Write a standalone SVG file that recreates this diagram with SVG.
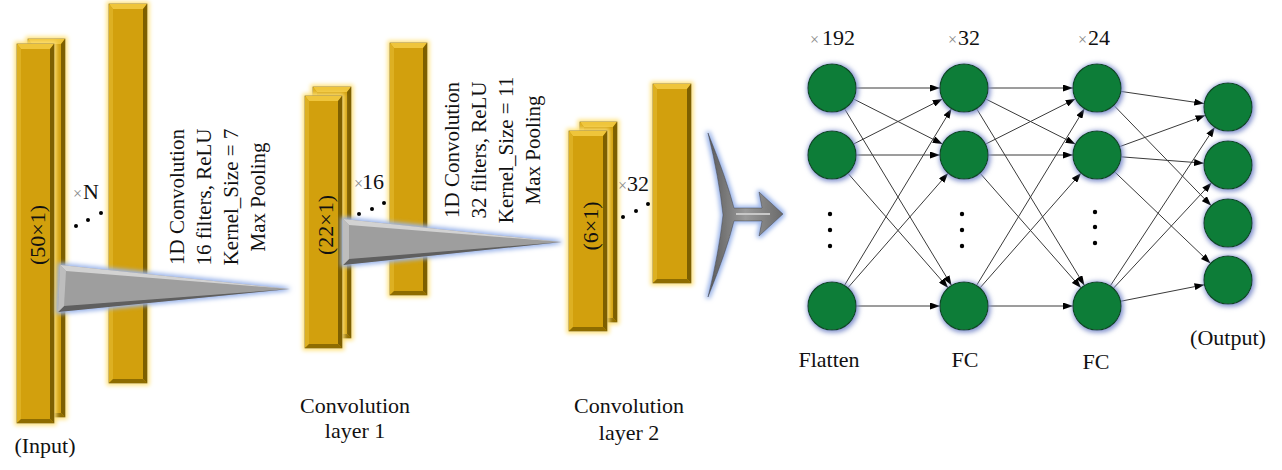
<svg xmlns="http://www.w3.org/2000/svg" width="1282" height="470" viewBox="0 0 1282 470">
<defs>
<style>
text{font-family:"Liberation Serif","Times New Roman",serif;fill:#111;}
.lbl{font-size:22px;}
.rot{font-size:21px;}
.mul{font-size:16px;fill:#8a8a8a;}
.bar{fill:#D2A00C;stroke:#5E4600;stroke-width:0.8;}
.bt{fill:#EFC53A;}
.bl{fill:#DDB022;}
.br{fill:#7D5E00;}
.bb{fill:#8E6C00;}
.tri{fill:#9E9E9E;}
.tt{fill:#D2D2D2;}
.tb{fill:#5E5E5E;}
.tl{fill:#BDBDBD;}
.node{fill:#0F7D37;stroke:#0A4A22;stroke-width:1.2;}
.dot{fill:#000;}
.cn{stroke:#3a3a3a;stroke-width:1;fill:none;marker-end:url(#ah);}
</style>
<marker id="ah" viewBox="0 0 10 7" refX="10" refY="3.5" markerWidth="10" markerHeight="7" markerUnits="userSpaceOnUse" orient="auto">
<path d="M0,0 L10,3.5 L0,7 z" fill="#000"/>
</marker>
<filter id="yglow" x="-40%" y="-5%" width="180%" height="110%">
<feMorphology in="SourceAlpha" operator="dilate" radius="2" result="d"/>
<feGaussianBlur in="d" stdDeviation="2" result="b"/>
<feFlood flood-color="#FFE27A"/>
<feComposite in2="b" operator="in" result="g"/>
<feMerge><feMergeNode in="g"/><feMergeNode in="SourceGraphic"/></feMerge>
</filter>
<filter id="bglow" x="-30%" y="-30%" width="160%" height="160%">
<feMorphology in="SourceAlpha" operator="dilate" radius="1" result="d"/>
<feGaussianBlur in="d" stdDeviation="2.5" result="b"/>
<feOffset in="b" dx="1" dy="1" result="o"/>
<feFlood flood-color="#7F8FCC"/>
<feComposite in2="o" operator="in" result="g"/>
<feMerge><feMergeNode in="g"/><feMergeNode in="SourceGraphic"/></feMerge>
</filter>
<filter id="tglow" x="-20%" y="-40%" width="140%" height="180%">
<feMorphology in="SourceAlpha" operator="dilate" radius="1.5" result="d"/>
<feGaussianBlur in="d" stdDeviation="2" result="b"/>
<feFlood flood-color="#9DB6EA"/>
<feComposite in2="b" operator="in" result="g"/>
<feMerge><feMergeNode in="g"/><feMergeNode in="SourceGraphic"/></feMerge>
</filter>
<linearGradient id="chev" x1="0" y1="0" x2="1" y2="0">
<stop offset="0" stop-color="#5a5a5a"/>
<stop offset="0.5" stop-color="#9a9a9a"/>
<stop offset="1" stop-color="#6a6a6a"/>
</linearGradient>
</defs>
<rect width="1282" height="470" fill="#fff"/>

<g id="input-layer">
<g filter="url(#yglow)">
<rect class="bar" x="28" y="39" width="37" height="378"/>
<polygon class="bt" points="28,39 65,39 61,44 32,44"/>
<polygon class="bl" points="28,39 32,44 32,413 28,417"/>
<polygon class="br" points="65,39 65,417 61,413 61,44"/>
<polygon class="bb" points="28,417 32,413 61,413 65,417"/>
</g>
<g filter="url(#yglow)">
<rect class="bar" x="17" y="44" width="37" height="379"/>
<polygon class="bt" points="17,44 54,44 50,49 21,49"/>
<polygon class="bl" points="17,44 21,49 21,419 17,423"/>
<polygon class="br" points="54,44 54,423 50,419 50,49"/>
<polygon class="bb" points="17,423 21,419 50,419 54,423"/>
</g>
<g filter="url(#yglow)">
<rect class="bar" x="109" y="4" width="38" height="379"/>
<polygon class="bt" points="109,4 147,4 143,9 113,9"/>
<polygon class="bl" points="109,4 113,9 113,379 109,383"/>
<polygon class="br" points="147,4 147,383 143,379 143,9"/>
<polygon class="bb" points="109,383 113,379 143,379 147,383"/>
</g>
<text class="lbl" transform="translate(37,235) rotate(-90)" text-anchor="middle" dominant-baseline="central">(50×1)</text>
<text class="lbl" x="73" y="199"><tspan class="mul">×</tspan><tspan dx="1">N</tspan></text>
<circle class="dot" cx="76" cy="226" r="2"/>
<circle class="dot" cx="88" cy="220" r="2"/>
<circle class="dot" cx="101" cy="213" r="2"/>
<text class="lbl" x="45" y="453" text-anchor="middle">(Input)</text>
</g>

<g id="conv-op-1">
<g filter="url(#tglow)">
<polygon class="tri" points="60,265 290,289 58,312"/>
<polygon class="tt" points="60,265 290,289 66,271"/>
<polygon class="tb" points="58,312 290,289 64,306"/>
<polygon class="tl" points="60,265 66,271 64,306 58,312"/>
</g>
<g class="rot" text-anchor="middle">
<text class="rot" transform="translate(177,197) rotate(-90)" dominant-baseline="central">1D Convolution</text>
<text class="rot" transform="translate(204,197) rotate(-90)" dominant-baseline="central">16 filters, ReLU</text>
<text class="rot" transform="translate(231,197) rotate(-90)" dominant-baseline="central">Kernel_Size = 7</text>
<text class="rot" transform="translate(258,197) rotate(-90)" dominant-baseline="central">Max Pooling</text>
</g>
</g>

<g id="conv-layer-1">
<g filter="url(#yglow)">
<rect class="bar" x="313" y="87" width="38" height="251"/>
<polygon class="bt" points="313,87 351,87 347,92 317,92"/>
<polygon class="bl" points="313,87 317,92 317,334 313,338"/>
<polygon class="br" points="351,87 351,338 347,334 347,92"/>
<polygon class="bb" points="313,338 317,334 347,334 351,338"/>
</g>
<g filter="url(#yglow)">
<rect class="bar" x="305" y="96" width="37" height="252"/>
<polygon class="bt" points="305,96 342,96 338,101 309,101"/>
<polygon class="bl" points="305,96 309,101 309,344 305,348"/>
<polygon class="br" points="342,96 342,348 338,344 338,101"/>
<polygon class="bb" points="305,348 309,344 338,344 342,348"/>
</g>
<g filter="url(#yglow)">
<rect class="bar" x="390" y="43" width="37" height="252"/>
<polygon class="bt" points="390,43 427,43 423,48 394,48"/>
<polygon class="bl" points="390,43 394,48 394,291 390,295"/>
<polygon class="br" points="427,43 427,295 423,291 423,48"/>
<polygon class="bb" points="390,295 394,291 423,291 427,295"/>
</g>
<text class="lbl" transform="translate(325,225) rotate(-90)" text-anchor="middle" dominant-baseline="central">(22×1)</text>
<text class="lbl" x="354" y="189"><tspan class="mul">×</tspan><tspan dx="-1">16</tspan></text>
<circle class="dot" cx="359" cy="214" r="2"/>
<circle class="dot" cx="372" cy="209" r="2"/>
<circle class="dot" cx="384" cy="203" r="2"/>
<text class="lbl" x="355" y="413" text-anchor="middle">Convolution</text>
<text class="lbl" x="355" y="438" text-anchor="middle">layer 1</text>
</g>

<g id="conv-op-2">
<g filter="url(#tglow)">
<polygon class="tri" points="343,219 562,242 343,265"/>
<polygon class="tt" points="343,219 562,242 349,225"/>
<polygon class="tb" points="343,265 562,242 349,259"/>
<polygon class="tl" points="343,219 349,225 349,259 343,265"/>
</g>
<text class="rot" transform="translate(452,150) rotate(-90)" text-anchor="middle" dominant-baseline="central">1D Convolution</text>
<text class="rot" transform="translate(479,150) rotate(-90)" text-anchor="middle" dominant-baseline="central">32 filters, ReLU</text>
<text class="rot" transform="translate(506,150) rotate(-90)" text-anchor="middle" dominant-baseline="central">Kernel_Size = 11</text>
<text class="rot" transform="translate(533,150) rotate(-90)" text-anchor="middle" dominant-baseline="central">Max Pooling</text>
</g>

<g id="conv-layer-2">
<g filter="url(#yglow)">
<rect class="bar" x="580" y="122" width="37" height="200"/>
<polygon class="bt" points="580,122 617,122 613,127 584,127"/>
<polygon class="bl" points="580,122 584,127 584,318 580,322"/>
<polygon class="br" points="617,122 617,322 613,318 613,127"/>
<polygon class="bb" points="580,322 584,318 613,318 617,322"/>
</g>
<g filter="url(#yglow)">
<rect class="bar" x="569" y="131" width="38" height="200"/>
<polygon class="bt" points="569,131 607,131 603,136 573,136"/>
<polygon class="bl" points="569,131 573,136 573,327 569,331"/>
<polygon class="br" points="607,131 607,331 603,327 603,136"/>
<polygon class="bb" points="569,331 573,327 603,327 607,331"/>
</g>
<g filter="url(#yglow)">
<rect class="bar" x="653" y="84" width="38" height="199"/>
<polygon class="bt" points="653,84 691,84 687,89 657,89"/>
<polygon class="bl" points="653,84 657,89 657,279 653,283"/>
<polygon class="br" points="691,84 691,283 687,279 687,89"/>
<polygon class="bb" points="653,283 657,279 687,279 691,283"/>
</g>
<text class="lbl" transform="translate(590,226) rotate(-90)" text-anchor="middle" dominant-baseline="central">(6×1)</text>
<text class="lbl" x="618" y="191"><tspan class="mul">×</tspan><tspan dx="0">32</tspan></text>
<circle class="dot" cx="623" cy="217" r="2"/>
<circle class="dot" cx="636" cy="211" r="2"/>
<circle class="dot" cx="648" cy="204" r="2"/>
<text class="lbl" x="629" y="413" text-anchor="middle">Convolution</text>
<text class="lbl" x="629" y="440" text-anchor="middle">layer 2</text>
</g>

<g id="flatten-arrow" filter="url(#tglow)">
<path d="M708,133 Q727,180 734,208 L762,208 L759,192 L783,214 L759,236 L762,221 L734,221 Q727,250 708,297 Q719,252 723,215 Q719,178 708,133 Z" fill="url(#chev)" stroke="#4a4a4a" stroke-width="0.6"/>
<path d="M736,214 L770,214" stroke="#c8c8c8" stroke-width="2" fill="none"/>
</g>

<g id="connectors">
<line class="cn" x1="856" y1="88" x2="940" y2="88"/>
<line class="cn" x1="853.4" y1="98.9" x2="942.6" y2="144.1"/>
<line class="cn" x1="844.4" y1="108.5" x2="951.6" y2="285.5"/>
<line class="cn" x1="853.4" y1="144.1" x2="942.6" y2="98.9"/>
<line class="cn" x1="856" y1="155" x2="940" y2="155"/>
<line class="cn" x1="847.8" y1="173.1" x2="948.2" y2="287.9"/>
<line class="cn" x1="844.4" y1="285.5" x2="951.6" y2="108.5"/>
<line class="cn" x1="847.8" y1="287.9" x2="948.2" y2="173.1"/>
<line class="cn" x1="856" y1="306" x2="940" y2="306"/>

<line class="cn" x1="988" y1="88" x2="1073" y2="88"/>
<line class="cn" x1="985.4" y1="98.8" x2="1075.6" y2="144.2"/>
<line class="cn" x1="976.5" y1="108.5" x2="1084.5" y2="285.5"/>
<line class="cn" x1="985.4" y1="144.2" x2="1075.6" y2="98.8"/>
<line class="cn" x1="988" y1="155" x2="1073" y2="155"/>
<line class="cn" x1="979.9" y1="173" x2="1081.1" y2="288"/>
<line class="cn" x1="976.5" y1="285.5" x2="1084.5" y2="108.5"/>
<line class="cn" x1="979.9" y1="288" x2="1081.1" y2="173"/>
<line class="cn" x1="988" y1="306" x2="1073" y2="306"/>

<line class="cn" x1="1120.8" y1="91.4" x2="1204.2" y2="103.6"/>
<line class="cn" x1="1113.7" y1="105.2" x2="1211.3" y2="205.8"/>
<line class="cn" x1="1119.5" y1="146.7" x2="1205.5" y2="115.3"/>
<line class="cn" x1="1120.9" y1="156.8" x2="1204.1" y2="163.2"/>
<line class="cn" x1="1114.4" y1="171.6" x2="1210.6" y2="263.4"/>
<line class="cn" x1="1110.2" y1="286" x2="1214.8" y2="127"/>
<line class="cn" x1="1113.3" y1="288.4" x2="1211.7" y2="182.6"/>
<line class="cn" x1="1120.5" y1="301.3" x2="1204.5" y2="284.7"/>
</g>

<g id="flatten-layer">
<g filter="url(#bglow)">
<circle class="node" cx="832" cy="88" r="24"/>
<circle class="node" cx="832" cy="155" r="24"/>
<circle class="node" cx="832" cy="306" r="24"/>
</g>
<circle class="dot" cx="830" cy="214" r="2.2"/>
<circle class="dot" cx="830" cy="230" r="2.2"/>
<circle class="dot" cx="830" cy="246" r="2.2"/>
<text class="lbl" x="810" y="45"><tspan class="mul">×</tspan><tspan dx="3">192</tspan></text>
<text class="lbl" x="829" y="367" text-anchor="middle">Flatten</text>
</g>

<g id="fc-layer-1">
<g filter="url(#bglow)">
<circle class="node" cx="964" cy="88" r="24"/>
<circle class="node" cx="964" cy="155" r="24"/>
<circle class="node" cx="964" cy="306" r="24"/>
</g>
<circle class="dot" cx="962" cy="214" r="2.2"/>
<circle class="dot" cx="962" cy="230" r="2.2"/>
<circle class="dot" cx="962" cy="246" r="2.2"/>
<text class="lbl" x="948" y="45"><tspan class="mul">×</tspan><tspan dx="1">32</tspan></text>
<text class="lbl" x="965" y="367" text-anchor="middle">FC</text>
</g>

<g id="fc-layer-2">
<g filter="url(#bglow)">
<circle class="node" cx="1097" cy="88" r="24"/>
<circle class="node" cx="1097" cy="155" r="24"/>
<circle class="node" cx="1097" cy="306" r="24"/>
</g>
<circle class="dot" cx="1095" cy="212" r="2.2"/>
<circle class="dot" cx="1095" cy="227" r="2.2"/>
<circle class="dot" cx="1095" cy="243" r="2.2"/>
<text class="lbl" x="1078" y="45"><tspan class="mul">×</tspan><tspan dx="1">24</tspan></text>
<text class="lbl" x="1096" y="369" text-anchor="middle">FC</text>
</g>

<g id="output-layer">
<g filter="url(#bglow)">
<circle class="node" cx="1228" cy="107" r="24"/>
<circle class="node" cx="1228" cy="165" r="24"/>
<circle class="node" cx="1228" cy="223" r="24"/>
<circle class="node" cx="1228" cy="280" r="24"/>
</g>
<text class="lbl" x="1228" y="345" text-anchor="middle">(Output)</text>
</g>
</svg>
